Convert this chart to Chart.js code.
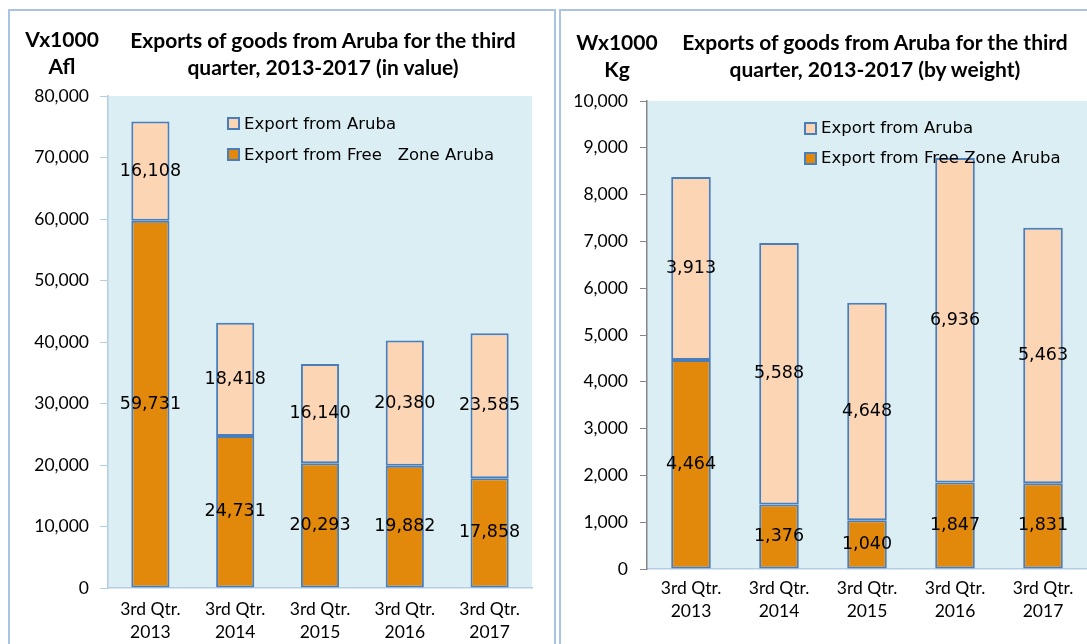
<!DOCTYPE html>
<html><head><meta charset="utf-8">
<script src="https://cdn.jsdelivr.net/npm/chart.js@4/dist/chart.umd.min.js"></script>
<style>
html,body{margin:0;padding:0;width:1087px;height:644px;overflow:hidden;background:#fff;}
.panel{position:absolute;border:2px solid #A9C4E0;box-sizing:border-box;}
.abs{position:absolute;}
.title{position:absolute;font-family:Lato,sans-serif;font-weight:700;font-size:21px;line-height:27px;text-align:center;color:#000;white-space:nowrap;}
.leg{position:absolute;font-family:"DejaVu Sans",sans-serif;font-size:16.5px;line-height:20px;white-space:pre;color:#000;}
.box{position:absolute;width:13px;height:13px;box-sizing:border-box;border:2px solid #4A7EBB;}
</style></head>
<body>
<div class="panel" style="left:8px;top:9px;width:548px;height:700px"></div>
<div class="panel" style="left:559px;top:9px;width:600px;height:700px"></div>
<div class="abs" style="left:0;top:0;width:556px;height:644px"><canvas id="c1"></canvas></div>
<div class="abs" style="left:561px;top:0;width:526px;height:644px"><canvas id="c2"></canvas></div>
<div class="title" style="left:12px;width:100px;top:25px">Vx1000<br>Afl</div>
<div class="title" style="left:93px;width:460px;top:26px">Exports of goods from Aruba for the third<br>quarter, 2013-2017 (in value)</div>
<div class="title" style="left:567px;width:100px;top:28px">Wx1000<br>Kg</div>
<div class="title" style="left:645px;width:460px;top:28px">Exports of goods from Aruba for the third<br>quarter, 2013-2017 (by weight)</div>
<div id="legends"></div>
<script>
// ---- data ----
const quarterLabel = '3rd Qtr.';
const years = ['2013', '2014', '2015', '2016', '2017'];
const valueFreeZone = [59731, 24731, 20293, 19882, 17858];
const valueAruba = [16108, 18418, 16140, 20380, 23585];
const weightFreeZone = [4464, 1376, 1040, 1847, 1831];
const weightAruba = [3913, 5588, 4648, 6936, 5463];
const valueAxis = {max: 80000, step: 10000};
const weightAxis = {max: 10000, step: 1000};
const labelAruba = 'Export from Aruba';
const labelFreeZoneValue = 'Export from Free   Zone Aruba';
const labelFreeZoneWeight = 'Export from Free Zone Aruba';

// ---- styles ----
const colDark = '#E2890C';
const colLight = '#FCD5B5';
const colEdge = '#4A7EBB';
const plotBg = '#DAEEF3';
const tickFont = {family: 'Lato', size: 17.5, lineHeight: 1.32};

const categories = years.map(y => [quarterLabel, y]);

const bgPlugin = {
  id: 'plotBg',
  beforeDraw(chart) {
    const {ctx, chartArea: a} = chart;
    ctx.save();
    ctx.fillStyle = plotBg;
    ctx.fillRect(a.left, a.top, a.right - a.left, a.bottom - a.top);
    ctx.restore();
  }
};
const segLabelPlugin = {
  id: 'segLabels',
  afterDatasetsDraw(chart) {
    const ctx = chart.ctx;
    ctx.save();
    ctx.font = '17.5px "DejaVu Sans"';
    ctx.fillStyle = '#000';
    ctx.textAlign = 'center';
    ctx.textBaseline = 'middle';
    chart.data.datasets.forEach((ds, i) => {
      chart.getDatasetMeta(i).data.forEach((bar, j) => {
        const p = bar.getProps(['x', 'y', 'base'], true);
        ctx.fillText(ds.data[j].toLocaleString('en-US'), p.x, (p.y + p.base) / 2);
      });
    });
    ctx.restore();
  }
};

function makeChart(id, cfg) {
  return new Chart(document.getElementById(id), {
    type: 'bar',
    data: {
      labels: categories,
      datasets: [
        {label: cfg.darkLabel, data: cfg.dark, backgroundColor: colDark, borderColor: colEdge, borderWidth: 2, borderSkipped: false, barPercentage: cfg.barPct, categoryPercentage: 1},
        {label: labelAruba, data: cfg.light, backgroundColor: colLight, borderColor: colEdge, borderWidth: 2, borderSkipped: false, barPercentage: cfg.barPct, categoryPercentage: 1}
      ]
    },
    options: {
      responsive: true, maintainAspectRatio: false, animation: false, events: [],
      layout: {padding: {top: cfg.padTop, right: cfg.padRight, left: 0, bottom: 0}},
      plugins: {legend: {display: false}, title: {display: false}, tooltip: {enabled: false}},
      scales: {
        x: {
          stacked: true,
          grid: {display: true, drawOnChartArea: false, drawTicks: false},
          border: {display: true, color: '#B3CDE3', width: 1.5},
          ticks: {font: tickFont, color: '#000', padding: cfg.xPad, maxRotation: 0, autoSkip: false},
          afterFit: s => { s.height = cfg.xHeight; }
        },
        y: {
          stacked: true, min: 0, max: cfg.axis.max,
          grid: {display: true, drawOnChartArea: false, drawTicks: true, tickLength: cfg.tickLen, color: cfg.yColor},
          border: {display: true, color: cfg.yColor, width: 1.5},
          ticks: {stepSize: cfg.axis.step, font: tickFont, color: '#000', padding: cfg.yPad,
                  callback: v => v.toLocaleString('en-US')},
          afterFit: s => { s.width = cfg.yWidth; }
        }
      }
    },
    plugins: [bgPlugin, segLabelPlugin]
  });
}

const c1 = makeChart('c1', {dark: valueFreeZone, light: valueAruba, darkLabel: labelFreeZoneValue, axis: valueAxis,
  barPct: 0.45, padTop: 96, padRight: 24, yWidth: 108, xHeight: 56, xPad: 10, tickLen: 8, yPad: 11, yColor: '#B3CDE3'});
const c2 = makeChart('c2', {dark: weightFreeZone, light: weightAruba, darkLabel: labelFreeZoneWeight, axis: weightAxis,
  barPct: 0.45, padTop: 101, padRight: 0, yWidth: 86, xHeight: 75, xPad: 8, tickLen: 7, yPad: 12, yColor: '#868686'});

// ---- HTML legends (inside plot area), drawn from the datasets ----
function legend(chart, x, y0, rowGap) {
  const host = document.getElementById('legends');
  const items = chart.data.datasets.slice().reverse();
  items.forEach((ds, k) => {
    const cy = y0 + k * rowGap;
    const b = document.createElement('div');
    b.className = 'box';
    b.style.left = x + 'px'; b.style.top = (cy - 6.5) + 'px'; b.style.background = ds.backgroundColor;
    const t = document.createElement('div');
    t.className = 'leg';
    t.style.left = (x + 17) + 'px'; t.style.top = (cy - 10) + 'px';
    t.textContent = ds.label;
    host.appendChild(b); host.appendChild(t);
  });
}
legend(c1, 227, 123.5, 31);
legend(c2, 804, 128, 30);
</script>
</body></html>
